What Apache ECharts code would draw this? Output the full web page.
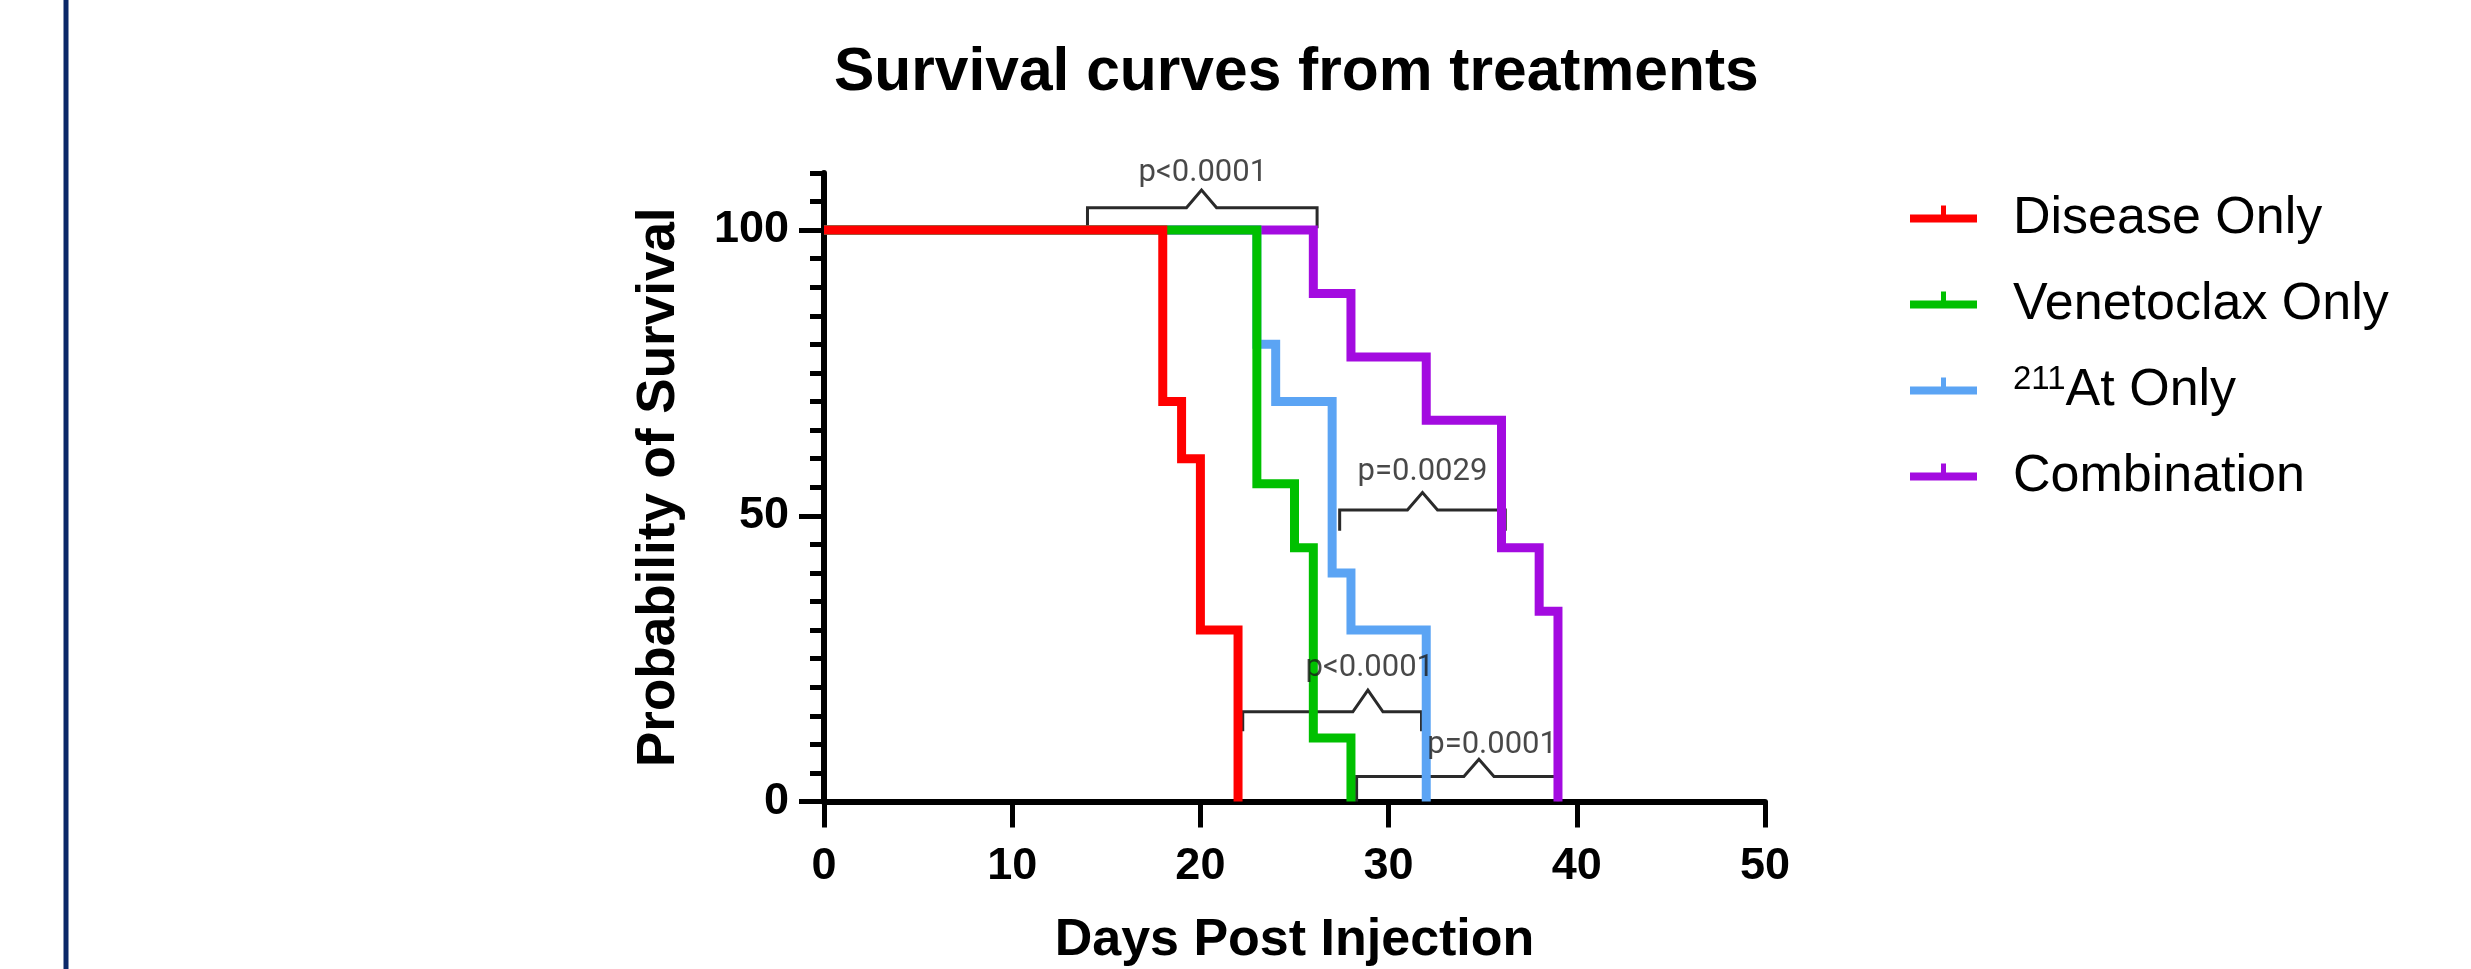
<!DOCTYPE html>
<html>
<head>
<meta charset="utf-8">
<title>Survival curves from treatments</title>
<script src="https://cdn.jsdelivr.net/npm/echarts@6/dist/echarts.min.js"></script>
<style>
  html, body { margin: 0; padding: 0; background: #fff; }
  #container { width: 2471px; height: 969px; }
</style>
</head>
<body>
<div id="container"></div>
<script>
// group names, in legend order
var seriesNames = ['Disease Only', 'Venetoclax Only', '211At Only', 'Combination'];

// Kaplan-Meier steps: [day, survival %]
var diseaseOnly = [[0, 100], [18, 70], [19, 60], [20, 30], [22, 0]];
var venetoclaxOnly = [[0, 100], [23, 55.6], [25, 44.4], [26, 11.1], [28, 0]];
var astatineOnly = [[0, 100], [23, 80], [24, 70], [27, 40], [28, 30], [32, 0]];
var combination = [[0, 100], [26, 88.9], [28, 77.8], [32, 66.7], [36, 44.4], [38, 33.3], [39, 0]];

// axis tick labels
var yLabelValues = [0, 50, 100];

// comparison brackets: [x1, x2, barY, legY, peakX, peakY]
var brackets = [
  [14, 26.2, 103.9, 100.3, 20.06, 107],
  [27.4, 36.2, 51.0, 47.4, 31.8, 54.05],
  [22.25, 31.75, 15.7, 12.3, 28.9, 19.5],
  [28.3, 39.0, 4.36, 0, 34.8, 7.4]
];
// p values: [x, y, text]
var pLabels = [
  [20.13, 110, 'p<0.0001'],
  [31.8, 57.7, 'p=0.0029'],
  [29.0, 23.4, 'p<0.0001'],
  [35.5, 9.8, 'p=0.0001']
];

var curves = [diseaseOnly, venetoclaxOnly, astatineOnly, combination];
var colors = ['#ff0000', '#00c000', '#5ba4f4', '#a30be0'];
var fontMain = "'Liberation Sans', Arial, Helvetica, sans-serif";
var notchHalf = 0.8;
var legendIcon = 'path://M0,9 L67,9 L67,17 L0,17 Z M31,0 L36,0 L36,9 L31,9 Z';

var chart = echarts.init(document.getElementById('container'));

var series = [];
for (var i = 0; i < curves.length; i++) {
  series.push({
    name: seriesNames[i],
    type: 'line',
    step: 'end',
    data: curves[i],
    z: 6 - i,
    symbol: 'none',
    showSymbol: false,
    silent: true,
    itemStyle: { color: colors[i] },
    lineStyle: { color: colors[i], width: 9, cap: 'butt', join: 'miter' }
  });
}

brackets.forEach(function (b) {
  series.push({
    type: 'line',
    z: 1,
    symbol: 'none',
    silent: true,
    clip: false,
    data: [
      [b[0], b[3]], [b[0], b[2]],
      [b[4] - notchHalf, b[2]], [b[4], b[5]], [b[4] + notchHalf, b[2]],
      [b[1], b[2]], [b[1], b[3]]
    ],
    lineStyle: { color: '#2a2a2a', width: 3, cap: 'butt', join: 'miter' }
  });
});

series.push({
  type: 'scatter',
  symbolSize: 0,
  clip: false,
  silent: true,
  z: 7,
  data: pLabels,
  label: {
    show: true,
    position: 'inside',
    formatter: function (p) { return p.data[2]; },
    color: '#1a1a1a',
    fontFamily: 'Roboto, sans-serif',
    fontSize: 31
  }
});

var option = {
  animation: false,
  backgroundColor: '#fff',
  textStyle: { fontFamily: fontMain },
  title: {
    text: 'Survival curves from treatments',
    left: 834,
    top: 43,
    padding: 0,
    textStyle: { fontFamily: fontMain, fontSize: 60.5, fontWeight: 'bold', color: '#000', lineHeight: 60 }
  },
  legend: {
    orient: 'vertical',
    left: 1910,
    top: 181,
    padding: 0,
    itemWidth: 67,
    itemHeight: 17,
    itemGap: 20,
    selectedMode: false,
    data: seriesNames.map(function (n, k) {
      return { name: n, icon: legendIcon, itemStyle: { color: colors[k], borderWidth: 0 } };
    }),
    formatter: function (name) {
      return name === '211At Only' ? '{sup|211}At Only' : name;
    },
    textStyle: {
      fontFamily: fontMain,
      fontSize: 52,
      lineHeight: 56,
      color: '#000',
      padding: [10, 0, 0, 31],
      rich: {
        sup: { fontFamily: fontMain, fontSize: 33, lineHeight: 30, verticalAlign: 'top', color: '#000' }
      }
    }
  },
  graphic: [{
    type: 'rect',
    shape: { x: 63.5, y: 0, width: 5, height: 969 },
    style: { fill: '#0b2868' },
    silent: true
  }],
  grid: { left: 824, right: 706, top: 172.9, bottom: 167.5, outerBoundsMode: 'none', containLabel: false },
  xAxis: {
    type: 'value',
    min: 0,
    max: 50,
    interval: 10,
    name: 'Days Post Injection',
    nameLocation: 'middle',
    nameGap: 113.5,
    nameTextStyle: { fontFamily: fontMain, fontSize: 52, fontWeight: 'bold', color: '#000', lineHeight: 52 },
    axisLine: { show: true, onZero: false, lineStyle: { color: '#000', width: 6 } },
    axisTick: { show: true, length: 26, lineStyle: { color: '#000', width: 5 } },
    axisLabel: { margin: 43, fontFamily: fontMain, fontSize: 45, fontWeight: 'bold', color: '#000', lineHeight: 45 },
    splitLine: { show: false }
  },
  yAxis: [{
    type: 'value',
    min: 0,
    max: 110,
    interval: 50,
    position: 'left',
    name: 'Probability of Survival',
    nameLocation: 'middle',
    nameGap: 138,
    nameTextStyle: { fontFamily: fontMain, fontSize: 53, fontWeight: 'bold', color: '#000', lineHeight: 53 },
    axisLine: { show: true, lineStyle: { color: '#000', width: 6 } },
    axisTick: { show: true, length: 25, customValues: yLabelValues, lineStyle: { color: '#000', width: 5 } },
    axisLabel: { customValues: yLabelValues, margin: 35, fontFamily: fontMain, fontSize: 45, fontWeight: 'bold', color: '#000' },
    splitLine: { show: false }
  }, {
    type: 'value',
    min: 0,
    max: 110,
    interval: 5,
    position: 'left',
    axisLine: { show: false },
    axisTick: { show: true, length: 14, lineStyle: { color: '#000', width: 5 } },
    axisLabel: { show: false },
    splitLine: { show: false }
  }],
  series: series
};

chart.setOption(option);
</script>
</body>
</html>
